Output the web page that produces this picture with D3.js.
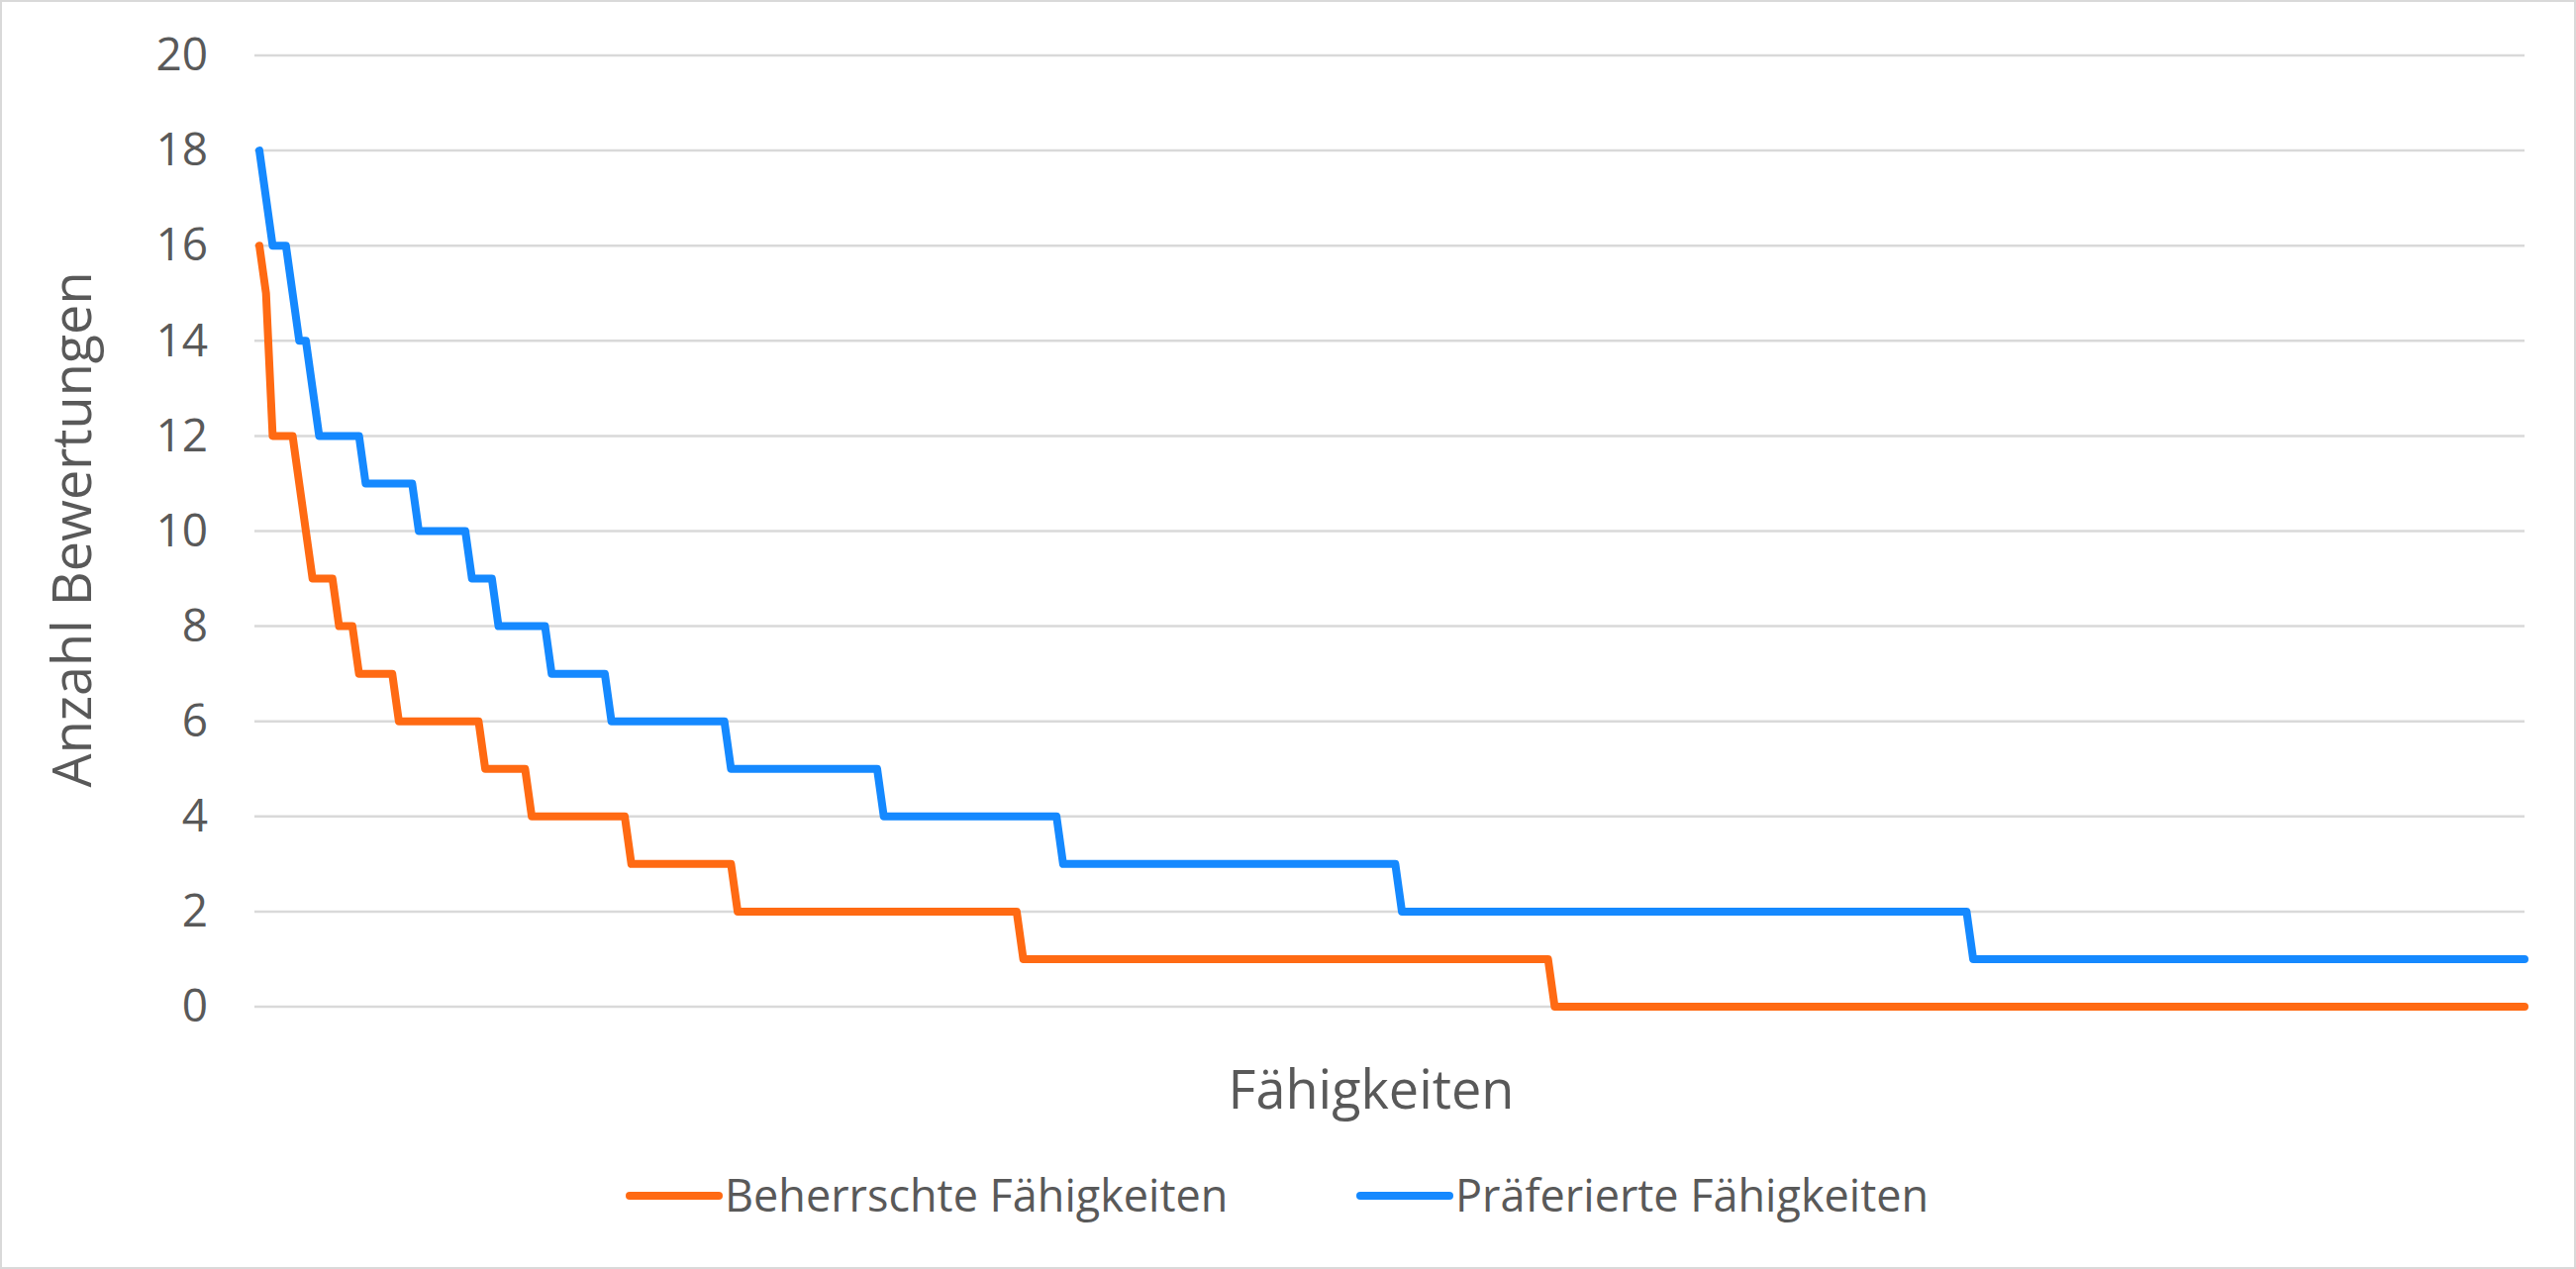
<!DOCTYPE html>
<html>
<head>
<meta charset="utf-8">
<script src="https://cdn.jsdelivr.net/npm/d3@7"></script>
<style>
  body { margin: 0; background: #fff; }
  text { font-family: "Open Sans", sans-serif; fill: #595959; }
</style>
</head>
<body>
<svg id="chart" width="2602" height="1282"></svg>
<script>
// run-length data: value and number of consecutive skills
const masteredValues = [16, 15, 12, 11, 10, 9, 8, 7, 6, 5, 4, 3, 2, 1, 0];
const masteredCounts = [1, 1, 4, 1, 1, 4, 3, 6, 13, 7, 15, 16, 43, 80, 147];
const preferredValues = [18, 17, 16, 15, 14, 13, 12, 11, 10, 9, 8, 7, 6, 5, 4, 3, 2, 1];
const preferredCounts = [1, 1, 3, 1, 2, 1, 7, 8, 8, 4, 8, 9, 18, 23, 27, 51, 86, 84];
const yTicks = [0, 2, 4, 6, 8, 10, 12, 14, 16, 18, 20];
const seriesNames = ["Beherrschte Fähigkeiten", "Präferierte Fähigkeiten"];
const colors = ["#FF6A13", "#1589FF"];

function expand(vals, counts) {
  const out = [];
  vals.forEach((v, i) => { for (let k = 0; k < counts[i]; k++) out.push(v); });
  return out;
}
const series = [expand(masteredValues, masteredCounts), expand(preferredValues, preferredCounts)];
const n = series[0].length;

const svg = d3.select("#chart");
svg.append("rect").attr("x", 1).attr("y", 1).attr("width", 2600).attr("height", 1280)
  .attr("fill", "#fff").attr("stroke", "#d9d9d9").attr("stroke-width", 2);

const x = d3.scalePoint().domain(d3.range(n)).range([262, 2550]);
const y = d3.scaleLinear().domain([0, 20]).range([1017, 56]);

// grid
svg.append("g").selectAll("line").data(yTicks).enter().append("line")
  .attr("x1", 257).attr("x2", 2550)
  .attr("y1", d => y(d)).attr("y2", d => y(d))
  .attr("stroke", "#d9d9d9").attr("stroke-width", 2.5);

const yAxis = d3.axisLeft(y).tickValues(yTicks).tickSize(0).tickPadding(0);
const ga = svg.append("g").attr("transform", "translate(210,0)").call(yAxis);
ga.select(".domain").remove();
ga.selectAll("text").style("font-size", "46px").attr("fill", "#595959")
  .style("font-family", "'Open Sans', sans-serif");

const line = d3.line().x((d, i) => x(i)).y(d => y(d));
series.forEach((s, i) => {
  svg.append("path").datum(s).attr("d", line)
    .attr("fill", "none").attr("stroke", colors[i]).attr("stroke-width", 8)
    .attr("stroke-linejoin", "round").attr("stroke-linecap", "round");
});

svg.append("text").attr("transform", "translate(92,535) rotate(-90)")
  .attr("text-anchor", "middle").style("font-size", "54px").text("Anzahl Bewertungen");
svg.append("text").attr("x", 1385).attr("y", 1120)
  .attr("text-anchor", "middle").style("font-size", "54px").text("Fähigkeiten");

const legendX = [636, 1374];
seriesNames.forEach((name, i) => {
  const g = svg.append("g").attr("transform", `translate(${legendX[i]},1208)`);
  g.append("line").attr("x1", 0).attr("x2", 90).attr("stroke", colors[i])
    .attr("stroke-width", 8).attr("stroke-linecap", "round");
  g.append("text").attr("x", 96).attr("y", 16).style("font-size", "45px").text(name);
});
</script>
</body>
</html>
